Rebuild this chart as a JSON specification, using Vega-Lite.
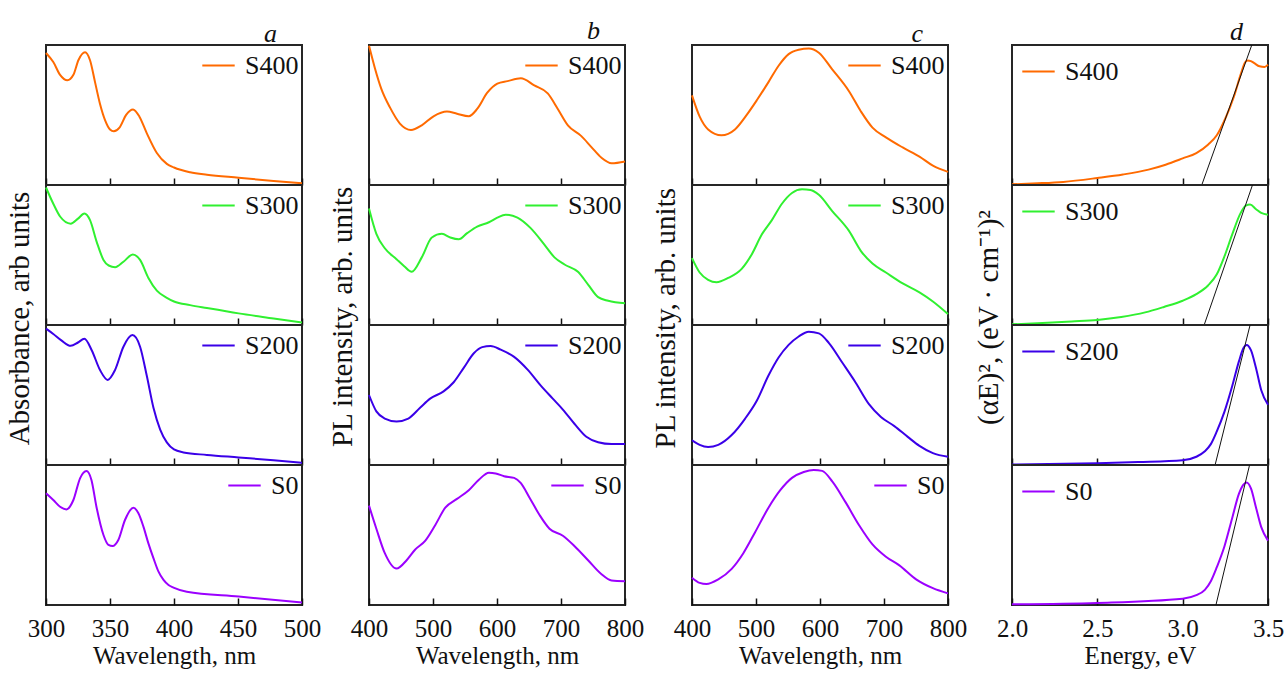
{
"$schema": "https://vega.github.io/schema/vega-lite/v6.json",
"background": "white",
"padding": {"left": 6, "top": 16, "right": 2, "bottom": 2},
"config": {
  "font": "Liberation Serif",
  "view": {"stroke": "#262626", "strokeWidth": 2},
  "axis": {"labelFont": "Liberation Serif", "titleFont": "Liberation Serif", "labelFontSize": 25, "titleFontSize": 25, "labelColor": "#111", "titleColor": "#111", "titleFontWeight": "normal", "tickColor": "#111", "tickWidth": 1.5, "grid": false, "domain": false},
  "legend": {"labelFont": "Liberation Serif", "labelFontSize": 26, "labelColor": "#111", "symbolType": "stroke", "symbolStrokeWidth": 2, "symbolSize": 1050, "padding": 0, "labelOffset": 9},
  "title": {"font": "Liberation Serif", "fontWeight": "normal", "color": "#111", "fontSize": 26},
  "line": {"strokeWidth": 2, "interpolate": "monotone"}
},
"datasets": {
  "a": [
    {"x":300,"y":0.943,"s":"S400"},{"x":305.7,"y":0.878,"s":"S400"},{"x":311,"y":0.787,"s":"S400"},{"x":316.7,"y":0.748,"s":"S400"},{"x":321.4,"y":0.787,"s":"S400"},{"x":325.3,"y":0.891,"s":"S400"},{"x":330.5,"y":0.948,"s":"S400"},{"x":334.4,"y":0.891,"s":"S400"},{"x":338.3,"y":0.735,"s":"S400"},{"x":342.2,"y":0.579,"s":"S400"},{"x":346.2,"y":0.462,"s":"S400"},{"x":350,"y":0.397,"s":"S400"},{"x":353,"y":0.384,"s":"S400"},{"x":357.4,"y":0.41,"s":"S400"},{"x":362.6,"y":0.501,"s":"S400"},{"x":368,"y":0.54,"s":"S400"},{"x":373,"y":0.488,"s":"S400"},{"x":378.7,"y":0.371,"s":"S400"},{"x":386.6,"y":0.229,"s":"S400"},{"x":394.4,"y":0.151,"s":"S400"},{"x":400,"y":0.125,"s":"S400"},{"x":412.6,"y":0.091,"s":"S400"},{"x":425.7,"y":0.073,"s":"S400"},{"x":450.5,"y":0.052,"s":"S400"},{"x":477.8,"y":0.029,"s":"S400"},{"x":500,"y":0.013,"s":"S400"},
    {"x":300,"y":0.982,"s":"S300"},{"x":305.7,"y":0.866,"s":"S300"},{"x":311,"y":0.775,"s":"S300"},{"x":319.3,"y":0.724,"s":"S300"},{"x":325,"y":0.76,"s":"S300"},{"x":330,"y":0.796,"s":"S300"},{"x":334.4,"y":0.749,"s":"S300"},{"x":339.6,"y":0.594,"s":"S300"},{"x":344.9,"y":0.465,"s":"S300"},{"x":349,"y":0.425,"s":"S300"},{"x":354,"y":0.413,"s":"S300"},{"x":360.5,"y":0.452,"s":"S300"},{"x":367.8,"y":0.504,"s":"S300"},{"x":373.5,"y":0.465,"s":"S300"},{"x":380,"y":0.336,"s":"S300"},{"x":386.6,"y":0.245,"s":"S300"},{"x":394.4,"y":0.194,"s":"S300"},{"x":400,"y":0.168,"s":"S300"},{"x":412.6,"y":0.142,"s":"S300"},{"x":425.7,"y":0.121,"s":"S300"},{"x":450.5,"y":0.083,"s":"S300"},{"x":477.8,"y":0.047,"s":"S300"},{"x":500,"y":0.018,"s":"S300"},
    {"x":300,"y":0.974,"s":"S200"},{"x":305.7,"y":0.936,"s":"S200"},{"x":312,"y":0.89,"s":"S200"},{"x":319.3,"y":0.851,"s":"S200"},{"x":325,"y":0.875,"s":"S200"},{"x":330,"y":0.902,"s":"S200"},{"x":335.7,"y":0.82,"s":"S200"},{"x":342.2,"y":0.678,"s":"S200"},{"x":348.2,"y":0.608,"s":"S200"},{"x":353.9,"y":0.678,"s":"S200"},{"x":360.5,"y":0.845,"s":"S200"},{"x":367.5,"y":0.928,"s":"S200"},{"x":373.5,"y":0.845,"s":"S200"},{"x":378.7,"y":0.639,"s":"S200"},{"x":384,"y":0.407,"s":"S200"},{"x":389.2,"y":0.253,"s":"S200"},{"x":394.4,"y":0.162,"s":"S200"},{"x":400,"y":0.111,"s":"S200"},{"x":407.4,"y":0.09,"s":"S200"},{"x":425.7,"y":0.072,"s":"S200"},{"x":450.5,"y":0.054,"s":"S200"},{"x":477.8,"y":0.034,"s":"S200"},{"x":500,"y":0.015,"s":"S200"},
    {"x":300,"y":0.798,"s":"S0"},{"x":305.7,"y":0.75,"s":"S0"},{"x":311,"y":0.702,"s":"S0"},{"x":316,"y":0.683,"s":"S0"},{"x":321.4,"y":0.75,"s":"S0"},{"x":326.6,"y":0.905,"s":"S0"},{"x":331.6,"y":0.957,"s":"S0"},{"x":335.5,"y":0.893,"s":"S0"},{"x":339.4,"y":0.702,"s":"S0"},{"x":344.9,"y":0.5,"s":"S0"},{"x":348.8,"y":0.429,"s":"S0"},{"x":352,"y":0.421,"s":"S0"},{"x":356.5,"y":0.464,"s":"S0"},{"x":361.7,"y":0.607,"s":"S0"},{"x":368.3,"y":0.695,"s":"S0"},{"x":372.2,"y":0.655,"s":"S0"},{"x":376.1,"y":0.56,"s":"S0"},{"x":380,"y":0.44,"s":"S0"},{"x":384,"y":0.333,"s":"S0"},{"x":387.9,"y":0.238,"s":"S0"},{"x":391.8,"y":0.179,"s":"S0"},{"x":395.7,"y":0.143,"s":"S0"},{"x":399.6,"y":0.124,"s":"S0"},{"x":410,"y":0.095,"s":"S0"},{"x":450.5,"y":0.06,"s":"S0"},{"x":500,"y":0.017,"s":"S0"}
  ],
  "b": [
    {"x":400,"y":0.995,"s":"S400"},{"x":408.9,"y":0.84,"s":"S400"},{"x":419.4,"y":0.685,"s":"S400"},{"x":432.5,"y":0.556,"s":"S400"},{"x":448.3,"y":0.439,"s":"S400"},{"x":465.6,"y":0.393,"s":"S400"},{"x":482.4,"y":0.426,"s":"S400"},{"x":500.8,"y":0.491,"s":"S400"},{"x":521.8,"y":0.525,"s":"S400"},{"x":537.5,"y":0.509,"s":"S400"},{"x":555.9,"y":0.491,"s":"S400"},{"x":569,"y":0.543,"s":"S400"},{"x":584.8,"y":0.659,"s":"S400"},{"x":600.5,"y":0.724,"s":"S400"},{"x":616.3,"y":0.742,"s":"S400"},{"x":637.3,"y":0.762,"s":"S400"},{"x":658.3,"y":0.711,"s":"S400"},{"x":679.3,"y":0.654,"s":"S400"},{"x":695,"y":0.543,"s":"S400"},{"x":710.8,"y":0.426,"s":"S400"},{"x":731.8,"y":0.349,"s":"S400"},{"x":747.5,"y":0.271,"s":"S400"},{"x":763.3,"y":0.194,"s":"S400"},{"x":779,"y":0.155,"s":"S400"},{"x":800,"y":0.168,"s":"S400"},
    {"x":400,"y":0.832,"s":"S300"},{"x":411.5,"y":0.651,"s":"S300"},{"x":424.7,"y":0.548,"s":"S300"},{"x":443,"y":0.47,"s":"S300"},{"x":455,"y":0.42,"s":"S300"},{"x":466.7,"y":0.38,"s":"S300"},{"x":482.4,"y":0.483,"s":"S300"},{"x":498.2,"y":0.625,"s":"S300"},{"x":513.9,"y":0.651,"s":"S300"},{"x":527,"y":0.625,"s":"S300"},{"x":540.2,"y":0.612,"s":"S300"},{"x":553.3,"y":0.656,"s":"S300"},{"x":569,"y":0.703,"s":"S300"},{"x":587.4,"y":0.734,"s":"S300"},{"x":600.5,"y":0.767,"s":"S300"},{"x":613.6,"y":0.788,"s":"S300"},{"x":632,"y":0.767,"s":"S300"},{"x":653,"y":0.69,"s":"S300"},{"x":674,"y":0.574,"s":"S300"},{"x":689.8,"y":0.483,"s":"S300"},{"x":705.5,"y":0.432,"s":"S300"},{"x":726.5,"y":0.38,"s":"S300"},{"x":742.3,"y":0.289,"s":"S300"},{"x":758,"y":0.199,"s":"S300"},{"x":773.8,"y":0.173,"s":"S300"},{"x":800,"y":0.155,"s":"S300"},
    {"x":400,"y":0.5,"s":"S200"},{"x":411.5,"y":0.383,"s":"S200"},{"x":424.7,"y":0.332,"s":"S200"},{"x":443,"y":0.311,"s":"S200"},{"x":461.4,"y":0.332,"s":"S200"},{"x":479.8,"y":0.409,"s":"S200"},{"x":495.5,"y":0.474,"s":"S200"},{"x":516.5,"y":0.526,"s":"S200"},{"x":532.3,"y":0.591,"s":"S200"},{"x":548,"y":0.694,"s":"S200"},{"x":563.8,"y":0.798,"s":"S200"},{"x":576.9,"y":0.842,"s":"S200"},{"x":590,"y":0.85,"s":"S200"},{"x":605.8,"y":0.824,"s":"S200"},{"x":626.8,"y":0.772,"s":"S200"},{"x":647.8,"y":0.681,"s":"S200"},{"x":668.8,"y":0.565,"s":"S200"},{"x":687.1,"y":0.474,"s":"S200"},{"x":702.9,"y":0.396,"s":"S200"},{"x":721.3,"y":0.293,"s":"S200"},{"x":739.6,"y":0.202,"s":"S200"},{"x":758,"y":0.163,"s":"S200"},{"x":779,"y":0.15,"s":"S200"},{"x":800,"y":0.15,"s":"S200"},
    {"x":400,"y":0.71,"s":"S0"},{"x":411.5,"y":0.545,"s":"S0"},{"x":424.7,"y":0.37,"s":"S0"},{"x":443,"y":0.26,"s":"S0"},{"x":458.8,"y":0.32,"s":"S0"},{"x":471.9,"y":0.395,"s":"S0"},{"x":487.7,"y":0.458,"s":"S0"},{"x":503.4,"y":0.57,"s":"S0"},{"x":519.2,"y":0.695,"s":"S0"},{"x":537.5,"y":0.758,"s":"S0"},{"x":555.9,"y":0.82,"s":"S0"},{"x":571.7,"y":0.895,"s":"S0"},{"x":587.4,"y":0.945,"s":"S0"},{"x":597.9,"y":0.94,"s":"S0"},{"x":611,"y":0.92,"s":"S0"},{"x":626.8,"y":0.908,"s":"S0"},{"x":637.3,"y":0.87,"s":"S0"},{"x":650.4,"y":0.77,"s":"S0"},{"x":666.2,"y":0.645,"s":"S0"},{"x":682,"y":0.545,"s":"S0"},{"x":702.9,"y":0.495,"s":"S0"},{"x":721.3,"y":0.42,"s":"S0"},{"x":742.3,"y":0.32,"s":"S0"},{"x":763.3,"y":0.22,"s":"S0"},{"x":779,"y":0.175,"s":"S0"},{"x":800,"y":0.17,"s":"S0"}
  ],
  "c": [
    {"x":400,"y":0.64,"s":"S400"},{"x":412,"y":0.488,"s":"S400"},{"x":425.2,"y":0.397,"s":"S400"},{"x":446.1,"y":0.355,"s":"S400"},{"x":467.1,"y":0.397,"s":"S400"},{"x":485.5,"y":0.501,"s":"S400"},{"x":501.2,"y":0.605,"s":"S400"},{"x":519.5,"y":0.735,"s":"S400"},{"x":535.3,"y":0.852,"s":"S400"},{"x":551,"y":0.935,"s":"S400"},{"x":566.7,"y":0.966,"s":"S400"},{"x":582.5,"y":0.975,"s":"S400"},{"x":598.2,"y":0.945,"s":"S400"},{"x":619.1,"y":0.826,"s":"S400"},{"x":645.3,"y":0.67,"s":"S400"},{"x":663.7,"y":0.527,"s":"S400"},{"x":682,"y":0.41,"s":"S400"},{"x":703,"y":0.34,"s":"S400"},{"x":729.2,"y":0.268,"s":"S400"},{"x":755.4,"y":0.203,"s":"S400"},{"x":776.4,"y":0.138,"s":"S400"},{"x":800,"y":0.094,"s":"S400"},
    {"x":400,"y":0.478,"s":"S300"},{"x":412,"y":0.375,"s":"S300"},{"x":425.2,"y":0.323,"s":"S300"},{"x":438.3,"y":0.305,"s":"S300"},{"x":456.6,"y":0.336,"s":"S300"},{"x":477.6,"y":0.401,"s":"S300"},{"x":493.3,"y":0.504,"s":"S300"},{"x":509,"y":0.646,"s":"S300"},{"x":524.8,"y":0.749,"s":"S300"},{"x":540.5,"y":0.866,"s":"S300"},{"x":556.2,"y":0.943,"s":"S300"},{"x":572,"y":0.969,"s":"S300"},{"x":585.1,"y":0.964,"s":"S300"},{"x":598.2,"y":0.93,"s":"S300"},{"x":619.1,"y":0.814,"s":"S300"},{"x":645.3,"y":0.672,"s":"S300"},{"x":663.7,"y":0.53,"s":"S300"},{"x":682,"y":0.439,"s":"S300"},{"x":703,"y":0.375,"s":"S300"},{"x":729.2,"y":0.297,"s":"S300"},{"x":755.4,"y":0.233,"s":"S300"},{"x":776.4,"y":0.168,"s":"S300"},{"x":800,"y":0.078,"s":"S300"},
    {"x":400,"y":0.177,"s":"S200"},{"x":412,"y":0.144,"s":"S200"},{"x":425.2,"y":0.129,"s":"S200"},{"x":441,"y":0.144,"s":"S200"},{"x":462,"y":0.214,"s":"S200"},{"x":482.8,"y":0.33,"s":"S200"},{"x":501.2,"y":0.459,"s":"S200"},{"x":519.5,"y":0.639,"s":"S200"},{"x":535.3,"y":0.768,"s":"S200"},{"x":551,"y":0.858,"s":"S200"},{"x":566.7,"y":0.918,"s":"S200"},{"x":582.5,"y":0.952,"s":"S200"},{"x":598.2,"y":0.94,"s":"S200"},{"x":614,"y":0.871,"s":"S200"},{"x":635,"y":0.73,"s":"S200"},{"x":655.8,"y":0.588,"s":"S200"},{"x":676.8,"y":0.433,"s":"S200"},{"x":695.2,"y":0.343,"s":"S200"},{"x":716.1,"y":0.278,"s":"S200"},{"x":737.1,"y":0.201,"s":"S200"},{"x":755.4,"y":0.137,"s":"S200"},{"x":776.4,"y":0.085,"s":"S200"},{"x":800,"y":0.059,"s":"S200"},
    {"x":400,"y":0.195,"s":"S0"},{"x":412,"y":0.158,"s":"S0"},{"x":422.5,"y":0.15,"s":"S0"},{"x":441,"y":0.183,"s":"S0"},{"x":462,"y":0.258,"s":"S0"},{"x":480.2,"y":0.37,"s":"S0"},{"x":498.6,"y":0.52,"s":"S0"},{"x":519.5,"y":0.695,"s":"S0"},{"x":537.9,"y":0.82,"s":"S0"},{"x":556.2,"y":0.908,"s":"S0"},{"x":574.6,"y":0.95,"s":"S0"},{"x":590.3,"y":0.965,"s":"S0"},{"x":603.4,"y":0.958,"s":"S0"},{"x":619.1,"y":0.883,"s":"S0"},{"x":640.1,"y":0.733,"s":"S0"},{"x":661.1,"y":0.57,"s":"S0"},{"x":682,"y":0.433,"s":"S0"},{"x":703,"y":0.345,"s":"S0"},{"x":724,"y":0.283,"s":"S0"},{"x":750.2,"y":0.183,"s":"S0"},{"x":776.4,"y":0.12,"s":"S0"},{"x":800,"y":0.083,"s":"S0"}
  ],
  "d": [
    {"x":2.0,"y":0.005,"s":"S400"},{"x":2.15,"y":0.012,"s":"S400"},{"x":2.3,"y":0.022,"s":"S400"},{"x":2.5,"y":0.05,"s":"S400"},{"x":2.65,"y":0.075,"s":"S400"},{"x":2.8,"y":0.11,"s":"S400"},{"x":2.9,"y":0.145,"s":"S400"},{"x":3.0,"y":0.19,"s":"S400"},{"x":3.08,"y":0.228,"s":"S400"},{"x":3.15,"y":0.29,"s":"S400"},{"x":3.2,"y":0.355,"s":"S400"},{"x":3.25,"y":0.475,"s":"S400"},{"x":3.3,"y":0.63,"s":"S400"},{"x":3.34,"y":0.79,"s":"S400"},{"x":3.365,"y":0.875,"s":"S400"},{"x":3.38,"y":0.89,"s":"S400"},{"x":3.4,"y":0.885,"s":"S400"},{"x":3.42,"y":0.87,"s":"S400"},{"x":3.45,"y":0.848,"s":"S400"},{"x":3.48,"y":0.843,"s":"S400"},{"x":3.5,"y":0.86,"s":"S400"},
    {"x":2.0,"y":0.005,"s":"S300"},{"x":2.15,"y":0.012,"s":"S300"},{"x":2.35,"y":0.025,"s":"S300"},{"x":2.5,"y":0.036,"s":"S300"},{"x":2.64,"y":0.057,"s":"S300"},{"x":2.78,"y":0.09,"s":"S300"},{"x":2.89,"y":0.129,"s":"S300"},{"x":3.0,"y":0.173,"s":"S300"},{"x":3.08,"y":0.22,"s":"S300"},{"x":3.15,"y":0.284,"s":"S300"},{"x":3.2,"y":0.362,"s":"S300"},{"x":3.245,"y":0.491,"s":"S300"},{"x":3.29,"y":0.646,"s":"S300"},{"x":3.34,"y":0.801,"s":"S300"},{"x":3.37,"y":0.853,"s":"S300"},{"x":3.395,"y":0.86,"s":"S300"},{"x":3.43,"y":0.827,"s":"S300"},{"x":3.46,"y":0.801,"s":"S300"},{"x":3.5,"y":0.788,"s":"S300"},
    {"x":2.0,"y":0.003,"s":"S200"},{"x":2.5,"y":0.013,"s":"S200"},{"x":2.74,"y":0.021,"s":"S200"},{"x":3.0,"y":0.034,"s":"S200"},{"x":3.08,"y":0.059,"s":"S200"},{"x":3.13,"y":0.098,"s":"S200"},{"x":3.165,"y":0.149,"s":"S200"},{"x":3.2,"y":0.24,"s":"S200"},{"x":3.245,"y":0.381,"s":"S200"},{"x":3.29,"y":0.562,"s":"S200"},{"x":3.33,"y":0.742,"s":"S200"},{"x":3.355,"y":0.832,"s":"S200"},{"x":3.375,"y":0.858,"s":"S200"},{"x":3.4,"y":0.82,"s":"S200"},{"x":3.43,"y":0.691,"s":"S200"},{"x":3.46,"y":0.536,"s":"S200"},{"x":3.5,"y":0.43,"s":"S200"},
    {"x":2.0,"y":0.005,"s":"S0"},{"x":2.5,"y":0.015,"s":"S0"},{"x":3.0,"y":0.045,"s":"S0"},{"x":3.08,"y":0.07,"s":"S0"},{"x":3.13,"y":0.108,"s":"S0"},{"x":3.165,"y":0.17,"s":"S0"},{"x":3.2,"y":0.27,"s":"S0"},{"x":3.245,"y":0.42,"s":"S0"},{"x":3.29,"y":0.62,"s":"S0"},{"x":3.33,"y":0.795,"s":"S0"},{"x":3.355,"y":0.858,"s":"S0"},{"x":3.375,"y":0.875,"s":"S0"},{"x":3.4,"y":0.833,"s":"S0"},{"x":3.43,"y":0.695,"s":"S0"},{"x":3.46,"y":0.558,"s":"S0"},{"x":3.5,"y":0.46,"s":"S0"}
  ],
  "fit": [
    {"x":3.112,"y":0,"s":"S400"},{"x":3.405,"y":1,"s":"S400"},
    {"x":3.126,"y":0,"s":"S300"},{"x":3.409,"y":1,"s":"S300"},
    {"x":3.19,"y":0,"s":"S200"},{"x":3.395,"y":1,"s":"S200"},
    {"x":3.195,"y":0,"s":"S0"},{"x":3.392,"y":1,"s":"S0"}
  ]
},
"spacing": 7,
"resolve": {"scale": {"color": "independent", "x": "independent", "y": "independent"}, "legend": {"color": "independent"}},
"hconcat": [
  {
    "title": {"text": "Absorbance, arb units", "orient": "left", "anchor": "middle", "offset": -9, "dx": 26, "fontSize": 29},
    "spacing": 0, "bounds": "flush",
    "resolve": {"scale": {"color": "independent", "x": "independent", "y": "independent"}, "legend": {"color": "independent"}},
    "vconcat": [
      {"width": 256, "height": 140, "title": {"text": "a", "anchor": "end", "fontStyle": "italic", "offset": -2, "dx": -29},
       "data": {"name": "a"}, "transform": [{"filter": "datum.s == 'S400'"}], "mark": "line",
       "encoding": {"x": {"field": "x", "type": "quantitative", "scale": {"domain": [300, 500], "nice": false, "zero": false}, "axis": {"values": [300, 350, 400, 450, 500], "labels": false, "title": null, "tickSize": -7}},
        "y": {"field": "y", "type": "quantitative", "scale": {"domain": [0, 1], "nice": false, "zero": false}, "axis": null},
        "color": {"field": "s", "type": "nominal", "title": null, "scale": {"domain": ["S400"], "range": ["#ff6a00"]}, "legend": {"orient": "top-right", "offset": 3}}}},
      {"width": 256, "height": 140,
       "data": {"name": "a"}, "transform": [{"filter": "datum.s == 'S300'"}], "mark": "line",
       "encoding": {"x": {"field": "x", "type": "quantitative", "scale": {"domain": [300, 500], "nice": false, "zero": false}, "axis": {"values": [300, 350, 400, 450, 500], "labels": false, "title": null, "tickSize": -7}},
        "y": {"field": "y", "type": "quantitative", "scale": {"domain": [0, 1], "nice": false, "zero": false}, "axis": null},
        "color": {"field": "s", "type": "nominal", "title": null, "scale": {"domain": ["S300"], "range": ["#30f030"]}, "legend": {"orient": "top-right", "offset": 3}}}},
      {"width": 256, "height": 140,
       "data": {"name": "a"}, "transform": [{"filter": "datum.s == 'S200'"}], "mark": "line",
       "encoding": {"x": {"field": "x", "type": "quantitative", "scale": {"domain": [300, 500], "nice": false, "zero": false}, "axis": {"values": [300, 350, 400, 450, 500], "labels": false, "title": null, "tickSize": -7}},
        "y": {"field": "y", "type": "quantitative", "scale": {"domain": [0, 1], "nice": false, "zero": false}, "axis": null},
        "color": {"field": "s", "type": "nominal", "title": null, "scale": {"domain": ["S200"], "range": ["#3a00e8"]}, "legend": {"orient": "top-right", "offset": 3}}}},
      {"width": 256, "height": 140,
       "data": {"name": "a"}, "transform": [{"filter": "datum.s == 'S0'"}], "mark": "line",
       "encoding": {"x": {"field": "x", "type": "quantitative", "scale": {"domain": [300, 500], "nice": false, "zero": false}, "axis": {"values": [300, 350, 400, 450, 500], "format": "d", "labelFlush": false, "labelOverlap": false, "labelPadding": 18, "title": "Wavelength, nm", "titlePadding": 2, "tickSize": -7}},
        "y": {"field": "y", "type": "quantitative", "scale": {"domain": [0, 1], "nice": false, "zero": false}, "axis": null},
        "color": {"field": "s", "type": "nominal", "title": null, "scale": {"domain": ["S0"], "range": ["#9b00ff"]}, "legend": {"orient": "top-right", "offset": 3}}}}
    ]
  },
  {
    "title": {"text": "PL intensity, arb. units", "orient": "left", "anchor": "middle", "offset": -9, "dx": 26, "fontSize": 29},
    "spacing": 0, "bounds": "flush",
    "resolve": {"scale": {"color": "independent", "x": "independent", "y": "independent"}, "legend": {"color": "independent"}},
    "vconcat": [
      {"width": 256, "height": 140, "title": {"text": "b", "anchor": "end", "fontStyle": "italic", "offset": -2, "dx": -29},
       "data": {"name": "b"}, "transform": [{"filter": "datum.s == 'S400'"}], "mark": "line",
       "encoding": {"x": {"field": "x", "type": "quantitative", "scale": {"domain": [400, 800], "nice": false, "zero": false}, "axis": {"values": [400, 500, 600, 700, 800], "labels": false, "title": null, "tickSize": -7}},
        "y": {"field": "y", "type": "quantitative", "scale": {"domain": [0, 1], "nice": false, "zero": false}, "axis": null},
        "color": {"field": "s", "type": "nominal", "title": null, "scale": {"domain": ["S400"], "range": ["#ff6a00"]}, "legend": {"orient": "top-right", "offset": 3}}}},
      {"width": 256, "height": 140,
       "data": {"name": "b"}, "transform": [{"filter": "datum.s == 'S300'"}], "mark": "line",
       "encoding": {"x": {"field": "x", "type": "quantitative", "scale": {"domain": [400, 800], "nice": false, "zero": false}, "axis": {"values": [400, 500, 600, 700, 800], "labels": false, "title": null, "tickSize": -7}},
        "y": {"field": "y", "type": "quantitative", "scale": {"domain": [0, 1], "nice": false, "zero": false}, "axis": null},
        "color": {"field": "s", "type": "nominal", "title": null, "scale": {"domain": ["S300"], "range": ["#30f030"]}, "legend": {"orient": "top-right", "offset": 3}}}},
      {"width": 256, "height": 140,
       "data": {"name": "b"}, "transform": [{"filter": "datum.s == 'S200'"}], "mark": "line",
       "encoding": {"x": {"field": "x", "type": "quantitative", "scale": {"domain": [400, 800], "nice": false, "zero": false}, "axis": {"values": [400, 500, 600, 700, 800], "labels": false, "title": null, "tickSize": -7}},
        "y": {"field": "y", "type": "quantitative", "scale": {"domain": [0, 1], "nice": false, "zero": false}, "axis": null},
        "color": {"field": "s", "type": "nominal", "title": null, "scale": {"domain": ["S200"], "range": ["#3a00e8"]}, "legend": {"orient": "top-right", "offset": 3}}}},
      {"width": 256, "height": 140,
       "data": {"name": "b"}, "transform": [{"filter": "datum.s == 'S0'"}], "mark": "line",
       "encoding": {"x": {"field": "x", "type": "quantitative", "scale": {"domain": [400, 800], "nice": false, "zero": false}, "axis": {"values": [400, 500, 600, 700, 800], "format": "d", "labelFlush": false, "labelOverlap": false, "labelPadding": 18, "title": "Wavelength, nm", "titlePadding": 2, "tickSize": -7}},
        "y": {"field": "y", "type": "quantitative", "scale": {"domain": [0, 1], "nice": false, "zero": false}, "axis": null},
        "color": {"field": "s", "type": "nominal", "title": null, "scale": {"domain": ["S0"], "range": ["#9b00ff"]}, "legend": {"orient": "top-right", "offset": 3}}}}
    ]
  },
  {
    "title": {"text": "PL intensity, arb. units", "orient": "left", "anchor": "middle", "offset": -9, "dx": 26, "fontSize": 29},
    "spacing": 0, "bounds": "flush",
    "resolve": {"scale": {"color": "independent", "x": "independent", "y": "independent"}, "legend": {"color": "independent"}},
    "vconcat": [
      {"width": 256, "height": 140, "title": {"text": "c", "anchor": "end", "fontStyle": "italic", "offset": -2, "dx": -29},
       "data": {"name": "c"}, "transform": [{"filter": "datum.s == 'S400'"}], "mark": "line",
       "encoding": {"x": {"field": "x", "type": "quantitative", "scale": {"domain": [400, 800], "nice": false, "zero": false}, "axis": {"values": [400, 500, 600, 700, 800], "labels": false, "title": null, "tickSize": -7}},
        "y": {"field": "y", "type": "quantitative", "scale": {"domain": [0, 1], "nice": false, "zero": false}, "axis": null},
        "color": {"field": "s", "type": "nominal", "title": null, "scale": {"domain": ["S400"], "range": ["#ff6a00"]}, "legend": {"orient": "top-right", "offset": 3}}}},
      {"width": 256, "height": 140,
       "data": {"name": "c"}, "transform": [{"filter": "datum.s == 'S300'"}], "mark": "line",
       "encoding": {"x": {"field": "x", "type": "quantitative", "scale": {"domain": [400, 800], "nice": false, "zero": false}, "axis": {"values": [400, 500, 600, 700, 800], "labels": false, "title": null, "tickSize": -7}},
        "y": {"field": "y", "type": "quantitative", "scale": {"domain": [0, 1], "nice": false, "zero": false}, "axis": null},
        "color": {"field": "s", "type": "nominal", "title": null, "scale": {"domain": ["S300"], "range": ["#30f030"]}, "legend": {"orient": "top-right", "offset": 3}}}},
      {"width": 256, "height": 140,
       "data": {"name": "c"}, "transform": [{"filter": "datum.s == 'S200'"}], "mark": "line",
       "encoding": {"x": {"field": "x", "type": "quantitative", "scale": {"domain": [400, 800], "nice": false, "zero": false}, "axis": {"values": [400, 500, 600, 700, 800], "labels": false, "title": null, "tickSize": -7}},
        "y": {"field": "y", "type": "quantitative", "scale": {"domain": [0, 1], "nice": false, "zero": false}, "axis": null},
        "color": {"field": "s", "type": "nominal", "title": null, "scale": {"domain": ["S200"], "range": ["#3a00e8"]}, "legend": {"orient": "top-right", "offset": 3}}}},
      {"width": 256, "height": 140,
       "data": {"name": "c"}, "transform": [{"filter": "datum.s == 'S0'"}], "mark": "line",
       "encoding": {"x": {"field": "x", "type": "quantitative", "scale": {"domain": [400, 800], "nice": false, "zero": false}, "axis": {"values": [400, 500, 600, 700, 800], "format": "d", "labelFlush": false, "labelOverlap": false, "labelPadding": 18, "title": "Wavelength, nm", "titlePadding": 2, "tickSize": -7}},
        "y": {"field": "y", "type": "quantitative", "scale": {"domain": [0, 1], "nice": false, "zero": false}, "axis": null},
        "color": {"field": "s", "type": "nominal", "title": null, "scale": {"domain": ["S0"], "range": ["#9b00ff"]}, "legend": {"orient": "top-right", "offset": 3}}}}
    ]
  },
  {
    "title": {"text": "(αE)², (eV · cm⁻¹)²", "orient": "left", "anchor": "middle", "offset": -9, "dx": 26, "fontSize": 29},
    "spacing": 0, "bounds": "flush",
    "resolve": {"scale": {"color": "independent", "x": "independent", "y": "independent"}, "legend": {"color": "independent"}},
    "vconcat": [
      {"width": 256, "height": 140, "title": {"text": "d", "anchor": "end", "fontStyle": "italic", "offset": -2, "dx": -29},
       "layer": [
        {"data": {"name": "d"}, "transform": [{"filter": "datum.s == 'S400'"}], "mark": "line",
         "encoding": {"x": {"field": "x", "type": "quantitative", "scale": {"domain": [2, 3.5], "nice": false, "zero": false}, "axis": {"values": [2, 2.5, 3, 3.5], "labels": false, "title": null, "tickSize": -7}},
          "y": {"field": "y", "type": "quantitative", "scale": {"domain": [0, 1], "nice": false, "zero": false}, "axis": null},
          "color": {"field": "s", "type": "nominal", "title": null, "scale": {"domain": ["S400"], "range": ["#ff6a00"]}, "legend": {"orient": "top-left", "offset": 9}}}},
        {"data": {"name": "fit"}, "transform": [{"filter": "datum.s == 'S400'"}], "mark": {"type": "line", "color": "#111", "strokeWidth": 1, "interpolate": "linear"},
         "encoding": {"x": {"field": "x", "type": "quantitative"}, "y": {"field": "y", "type": "quantitative"}}}
       ]},
      {"width": 256, "height": 140,
       "layer": [
        {"data": {"name": "d"}, "transform": [{"filter": "datum.s == 'S300'"}], "mark": "line",
         "encoding": {"x": {"field": "x", "type": "quantitative", "scale": {"domain": [2, 3.5], "nice": false, "zero": false}, "axis": {"values": [2, 2.5, 3, 3.5], "labels": false, "title": null, "tickSize": -7}},
          "y": {"field": "y", "type": "quantitative", "scale": {"domain": [0, 1], "nice": false, "zero": false}, "axis": null},
          "color": {"field": "s", "type": "nominal", "title": null, "scale": {"domain": ["S300"], "range": ["#30f030"]}, "legend": {"orient": "top-left", "offset": 9}}}},
        {"data": {"name": "fit"}, "transform": [{"filter": "datum.s == 'S300'"}], "mark": {"type": "line", "color": "#111", "strokeWidth": 1, "interpolate": "linear"},
         "encoding": {"x": {"field": "x", "type": "quantitative"}, "y": {"field": "y", "type": "quantitative"}}}
       ]},
      {"width": 256, "height": 140,
       "layer": [
        {"data": {"name": "d"}, "transform": [{"filter": "datum.s == 'S200'"}], "mark": "line",
         "encoding": {"x": {"field": "x", "type": "quantitative", "scale": {"domain": [2, 3.5], "nice": false, "zero": false}, "axis": {"values": [2, 2.5, 3, 3.5], "labels": false, "title": null, "tickSize": -7}},
          "y": {"field": "y", "type": "quantitative", "scale": {"domain": [0, 1], "nice": false, "zero": false}, "axis": null},
          "color": {"field": "s", "type": "nominal", "title": null, "scale": {"domain": ["S200"], "range": ["#3a00e8"]}, "legend": {"orient": "top-left", "offset": 9}}}},
        {"data": {"name": "fit"}, "transform": [{"filter": "datum.s == 'S200'"}], "mark": {"type": "line", "color": "#111", "strokeWidth": 1, "interpolate": "linear"},
         "encoding": {"x": {"field": "x", "type": "quantitative"}, "y": {"field": "y", "type": "quantitative"}}}
       ]},
      {"width": 256, "height": 140,
       "layer": [
        {"data": {"name": "d"}, "transform": [{"filter": "datum.s == 'S0'"}], "mark": "line",
         "encoding": {"x": {"field": "x", "type": "quantitative", "scale": {"domain": [2, 3.5], "nice": false, "zero": false}, "axis": {"values": [2, 2.5, 3, 3.5], "format": ".1f", "labelFlush": false, "labelOverlap": false, "labelPadding": 18, "title": "Energy, eV", "titlePadding": 2, "tickSize": -7}},
          "y": {"field": "y", "type": "quantitative", "scale": {"domain": [0, 1], "nice": false, "zero": false}, "axis": null},
          "color": {"field": "s", "type": "nominal", "title": null, "scale": {"domain": ["S0"], "range": ["#9b00ff"]}, "legend": {"orient": "top-left", "offset": 9}}}},
        {"data": {"name": "fit"}, "transform": [{"filter": "datum.s == 'S0'"}], "mark": {"type": "line", "color": "#111", "strokeWidth": 1, "interpolate": "linear"},
         "encoding": {"x": {"field": "x", "type": "quantitative"}, "y": {"field": "y", "type": "quantitative"}}}
       ]}
    ]
  }
]
}
